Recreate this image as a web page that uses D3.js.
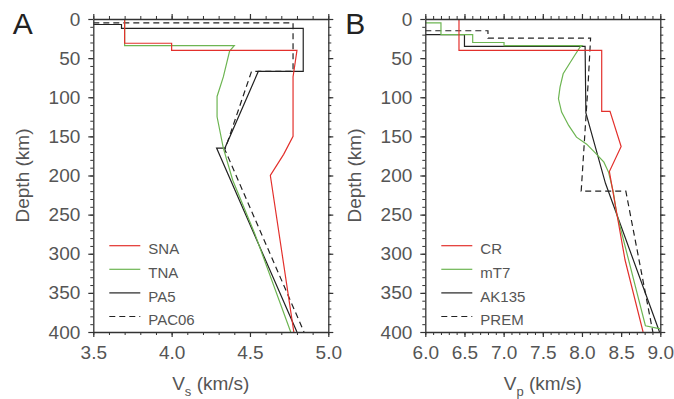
<!DOCTYPE html>
<html>
<head>
<meta charset="utf-8">
<script src="https://cdn.jsdelivr.net/npm/d3@7"></script>
<style>
  body { margin: 0; background: #fff; }
  svg { font-family: "Liberation Sans", Arial, sans-serif; }
</style>
</head>
<body>
<div id="chart"></div>
<script>
// ---- data: [velocity km/s, depth km] ----
// panel A, shear velocity
const sna   = [[3.7,0],[3.7,31],[4.0,31],[4.0,40],[4.8,40],[4.775,74],[4.775,150],[4.715,173],[4.63,200],[4.78,400]];
const tna   = [[3.7,0],[3.7,34],[4.40,34],[4.37,41],[4.33,74],[4.29,99],[4.29,125],[4.33,165],[4.39,206],[4.53,274],[4.76,400]];
const pa5   = [[3.5,7],[3.68,7],[3.68,12],[4.84,12],[4.84,67],[4.553,67],[4.34,165],[4.287,165],[4.80,400]];
const pac06 = [[3.5,5],[4.775,5],[4.775,67],[4.51,67],[4.34,167],[4.845,400]];

// panel B, compressional velocity
const cr    = [[6.43,0],[6.43,40],[8.252,40],[8.252,118],[8.358,118],[8.50,163],[8.35,195],[8.44,246],[8.55,308],[8.78,400]];
const mt7   = [[6.0,5],[6.2,5],[6.2,20],[6.605,20],[6.605,30],[7.005,30],[7.005,34],[8.0,34],[7.975,36],[7.91,46],[7.76,70],
               [7.72,87],[7.70,102],[7.74,119],[7.83,136],[7.93,151],[8.06,160],[8.17,171],[8.28,183],[8.34,196],
               [8.40,221],[8.44,247],[8.81,392],[9.0,396]];
const ak135 = [[6.0,20],[6.5,20],[6.5,35],[8.04,35],[8.045,77.5],[8.05,120],[8.175,165],[8.30,210],[8.99,400]];
const prem  = [[6.0,15],[6.8,15],[6.8,24.4],[8.11,24.4],[8.08,80],[7.99,220],[8.56,220],[8.905,400]];

const depthTicks = [0, 50, 100, 150, 200, 250, 300, 350, 400];
const vsTicks = [3.5, 4.0, 4.5, 5.0];
const vpTicks = [6.0, 6.5, 7.0, 7.5, 8.0, 8.5, 9.0];
const namesA = ["SNA", "TNA", "PA5", "PAC06"];
const namesB = ["CR", "mT7", "AK135", "PREM"];

// styles in legend order: red, green, solid black, dashed black
const styles = [
  { color: "#e3302c", dash: null },
  { color: "#6db552", dash: null },
  { color: "#222222", dash: null },
  { color: "#222222", dash: "6,4" }
];

const W = 674, H = 399;
const plotTop = 19, plotBottom = 332;

const svg = d3.select("#chart").append("svg")
  .attr("width", W)
  .attr("height", H);

const y = d3.scaleLinear().domain([0, 400]).range([plotTop, plotBottom]);
const minorDepth = d3.range(0, 401, 10);

function drawPanel(p) {
  const x = d3.scaleLinear().domain(p.domain).range([p.left, p.right]);
  const minorX = d3.range(0, Math.round((p.domain[1] - p.domain[0]) / 0.1) + 1)
    .map(i => p.domain[0] + i * 0.1);

  const g = svg.append("g");

  // clip the profiles to the frame
  g.append("clipPath").attr("id", "clip-" + p.id)
    .append("rect")
    .attr("x", p.left).attr("y", plotTop)
    .attr("width", p.right - p.left).attr("height", plotBottom - plotTop);

  const line = d3.line().x(d => x(d[0])).y(d => y(d[1]));

  // black, dashed, green, red  (red ends on top)
  [2, 3, 1, 0].forEach(i => {
    g.append("path")
      .datum(p.series[i])
      .attr("clip-path", "url(#clip-" + p.id + ")")
      .attr("fill", "none")
      .attr("stroke", styles[i].color)
      .attr("stroke-width", 1.2)
      .attr("stroke-dasharray", styles[i].dash)
      .attr("d", line);
  });

  // four sides, ticks outward; labels only bottom and left
  const sides = [
    { make: () => d3.axisBottom(x), tr: `translate(0,${plotBottom})`, minor: minorX, major: p.ticks, fmt: d3.format(".1f"), pad: 9 },
    { make: () => d3.axisTop(x),    tr: `translate(0,${plotTop})`,    minor: minorX, major: p.ticks, fmt: null },
    { make: () => d3.axisLeft(y),   tr: `translate(${p.left},0)`,     minor: minorDepth, major: depthTicks, fmt: d3.format("d"), pad: 8 },
    { make: () => d3.axisRight(y),  tr: `translate(${p.right},0)`,    minor: minorDepth, major: depthTicks, fmt: null }
  ];

  sides.forEach(s => {
    const minorG = g.append("g").attr("transform", s.tr)
      .call(s.make().tickValues(s.minor).tickSize(3).tickSizeOuter(0).tickFormat(""));
    minorG.select(".domain").remove();
    minorG.selectAll("line").attr("stroke", "#333").attr("stroke-width", 1);

    const majorG = g.append("g").attr("transform", s.tr)
      .call(s.make().tickValues(s.major).tickSize(5).tickSizeOuter(0)
        .tickPadding(s.pad || 8)
        .tickFormat(s.fmt ? s.fmt : ""));
    majorG.select(".domain").attr("stroke", "#333").attr("stroke-width", 1.3);
    majorG.selectAll("line").attr("stroke", "#333").attr("stroke-width", 1.2);
    majorG.selectAll("text")
      .attr("fill", "#555")
      .style("font-size", "19px")
      .style("font-family", "'Liberation Sans', Arial, sans-serif");
  });

  // panel letter
  g.append("text")
    .attr("x", p.letterX).attr("y", 34.3)
    .attr("fill", "#222")
    .style("font-size", "30px")
    .text(p.letter);

  // depth title
  g.append("text")
    .attr("transform", `translate(${p.left - 64},${(plotTop + plotBottom) / 2}) rotate(-90)`)
    .attr("text-anchor", "middle")
    .attr("fill", "#555")
    .style("font-size", "19px")
    .text("Depth (km)");

  // velocity title with subscript
  const t = g.append("text")
    .attr("x", (p.left + p.right) / 2).attr("y", 389.5)
    .attr("text-anchor", "middle")
    .attr("fill", "#555")
    .style("font-size", "19px");
  t.append("tspan").text("V");
  t.append("tspan").attr("dy", 6).style("font-size", "13px").text(p.sub);
  t.append("tspan").attr("dy", -6).text(" (km/s)");

  // legend
  const lg = g.append("g");
  p.names.forEach((name, i) => {
    const ly = 245.7 + i * 23.6;
    lg.append("line")
      .attr("x1", p.left + 16).attr("x2", p.left + 47)
      .attr("y1", ly).attr("y2", ly)
      .attr("stroke", styles[i].color)
      .attr("stroke-width", 1.2)
      .attr("stroke-dasharray", styles[i].dash);
    lg.append("text")
      .attr("x", p.left + 55).attr("y", ly + 8.7)
      .attr("fill", "#555")
      .style("font-size", "15px")
      .text(name);
  });
}

drawPanel({
  id: "a", letter: "A", letterX: 12.7, sub: "s",
  left: 93.3, right: 328.3, domain: [3.5, 5.0], ticks: vsTicks,
  series: [sna, tna, pa5, pac06], names: namesA
});

drawPanel({
  id: "b", letter: "B", letterX: 345.3, sub: "p",
  left: 425.3, right: 660.3, domain: [6.0, 9.0], ticks: vpTicks,
  series: [cr, mt7, ak135, prem], names: namesB
});
</script>
</body>
</html>
